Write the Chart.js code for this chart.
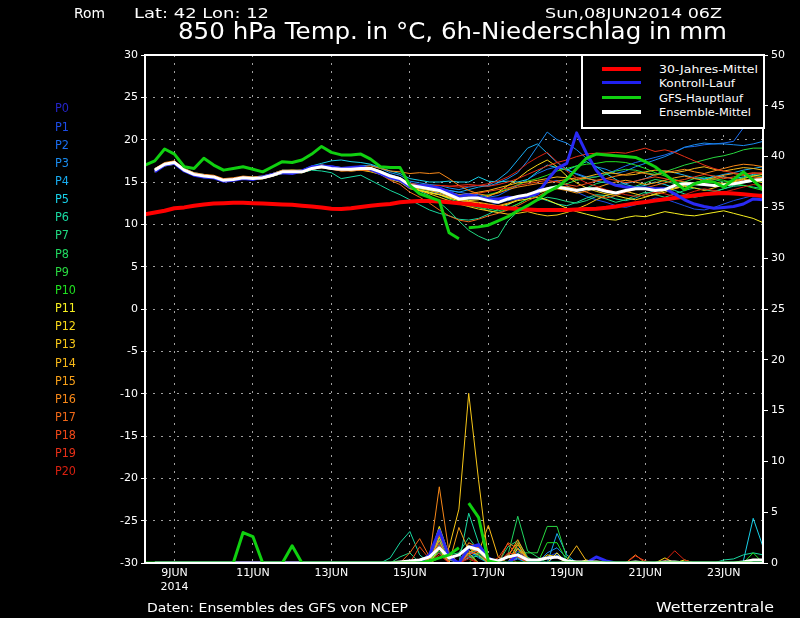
<!DOCTYPE html>
<html><head><meta charset="utf-8">
<script src="https://cdn.jsdelivr.net/npm/chart.js"></script>
<style>
html,body{margin:0;padding:0;background:#000;}
#wrap{position:relative;width:800px;height:618px;background:#000;overflow:hidden;}
#c{position:absolute;left:0;top:0;}
.t{position:absolute;color:#fff;font-family:"DejaVu Sans",sans-serif;white-space:nowrap;line-height:1;transform-origin:0 50%;}
#legend{position:absolute;left:581px;top:54px;width:180px;height:71px;border:2px solid #fff;background:#000;}
.lg{position:absolute;left:602px;width:39px;}
</style></head>
<body><div id="wrap">
<canvas id="c" width="800" height="618"></canvas>
<div class="t" data-x="74" data-cy="13" data-fs="14" data-w="31">Rom</div>
<div class="t" data-x="134" data-cy="13" data-fs="14" data-w="135">Lat: 42 Lon: 12</div>
<div class="t" data-x="545" data-cy="13" data-fs="14" data-w="177">Sun,08JUN2014 06Z</div>
<div class="t" data-x="178" data-cy="31" data-fs="23" data-w="549">850 hPa Temp. in °C, 6h-Niederschlag in mm</div>
<div id="legend"></div>
<div class="lg" style="top:67px;height:4px;background:#ff0000"></div>
<div class="lg" style="top:81px;height:3px;background:#2020f0"></div>
<div class="lg" style="top:96px;height:3px;background:#10d010"></div>
<div class="lg" style="top:110px;height:4px;background:#ffffff"></div>
<div class="t" data-x="659" data-cy="69" data-fs="10.5" data-w="99">30-Jahres-Mittel</div>
<div class="t" data-x="659" data-cy="83" data-fs="10.5" data-w="76">Kontroll-Lauf</div>
<div class="t" data-x="659" data-cy="98" data-fs="10.5" data-w="84">GFS-Hauptlauf</div>
<div class="t" data-x="659" data-cy="112" data-fs="10.5" data-w="92">Ensemble-Mittel</div>
<div class="t" data-x="147" data-cy="607" data-fs="13" data-w="261">Daten: Ensembles des GFS von NCEP</div>
<div class="t" data-x="656" data-cy="607" data-fs="14" data-w="118">Wetterzentrale</div>
<div id="plabels"></div>
</div>
<script>
// ---- time axis (hours after 08JUN2014 06Z) ----
const hours = [0,6,12,18,24,30,36,42,48,54,60,66,72,78,84,90,96,102,108,114,120,126,132,138,144,150,156,162,168,174,180,186,192,198,204,210,216,222,228,234,240,246,252,258,264,270,276,282,288,294,300,306,312,318,324,330,336,342,348,354,360,366,372,378];
const xTickHours = [18,66,114,162,210,258,306,354];
const xTickLabels = ['9JUN','11JUN','13JUN','15JUN','17JUN','19JUN','21JUN','23JUN'];
const yearLabel = '2014';
const memberNames = ['P0','P1','P2','P3','P4','P5','P6','P7','P8','P9','P10','P11','P12','P13','P14','P15','P16','P17','P18','P19','P20'];
const memberColors = ['#2424c8','#1c4ce8','#1a6cf0','#1a8cf0','#18acf0','#18d0e8','#18d8a0','#20d880','#20d860','#28d840','#20e020','#f8f020','#f8d818','#f8c818','#f8b818','#f8a018','#f88818','#f06818','#f04818','#e83018','#d82010'];

// ---- 850 hPa temperature (°C) ----
const tempMean = [null,16.4,17.1,17.3,16.4,15.9,15.7,15.6,15.2,15.3,15.5,15.4,15.5,15.8,16.2,16.2,16.2,16.6,16.8,16.6,16.5,16.5,16.6,16.6,16.2,
15.7,15.4,14.6,14.4,14.2,14.0,13.5,13.0,13.1,13.1,12.8,12.6,13.0,13.3,13.5,13.9,14.2,14.4,14.2,14.0,14.2,14.2,13.9,13.7,14.0,14.2,14.2,14.0,14.1,14.6,14.8,14.8,14.7,14.6,14.65,14.8,15.0,15.2,15.3];
const tempClim = [11.2,11.4,11.6,11.9,12.0,12.2,12.35,12.45,12.5,12.55,12.55,12.5,12.45,12.4,12.35,12.3,12.2,12.1,12.0,11.85,11.8,11.9,12.05,12.2,12.3,12.4,12.6,12.7,12.75,12.75,12.7,12.6,12.5,12.4,12.25,12.1,12.0,11.9,11.8,11.75,11.7,11.7,11.7,11.7,11.75,11.8,11.85,11.95,12.1,12.3,12.5,12.65,12.8,12.95,13.1,13.25,13.4,13.55,13.65,13.7,13.65,13.55,13.45,13.35];
const tempGfsHigh = [17.0,17.5,18.9,18.3,16.8,16.6,17.8,17.0,16.4,16.6,16.8,16.5,16.2,16.8,17.4,17.3,17.6,18.3,19.2,18.5,18.2,18.2,18.3,17.7,16.8,16.7,16.7,14.6,13.6,13.2,12.8,9.0,8.3,
null,null,null,null,null,null,null,null,null,null,null,null,null,null,null,null,null,null,null,null,null,null,null,null,null,null,null,null,null,null,null];
const tempGfsLow = [null,null,null,null,null,null,null,null,null,null,null,null,null,null,null,null,null,null,null,null,null,null,null,null,null,null,null,null,null,null,null,null,null,
9.6,9.7,9.9,10.4,10.9,11.6,12.2,12.9,13.8,14.4,15.3,16.6,17.8,18.3,18.2,18.1,18.0,17.9,17.4,16.8,15.9,15.0,14.1,14.8,15.1,15.0,14.4,15.3,16.2,15.2,14.1];
const tempP0 = [null,16.2,17.0,17.2,16.3,15.8,15.6,15.5,15.1,15.2,15.4,15.3,15.6,15.9,16.1,16.0,16.3,16.8,16.9,16.8,16.6,16.7,16.8,16.5,16.0,
15.5,15.2,14.4,14.6,14.5,14.3,13.8,13.3,13.5,13.2,13.0,13.0,13.2,13.1,13.3,13.6,15.2,16.6,17.2,20.8,18.4,16.4,15.1,14.6,14.4,14.3,14.3,14.2,14.2,13.6,12.9,12.4,12.1,11.9,12.0,12.1,12.4,13.0,12.9];
const tempP1 = [null,16.3,17.0,17.3,16.5,16.0,15.8,15.6,15.3,15.2,15.4,15.5,15.4,15.7,16.3,16.1,16.3,16.7,17.0,16.9,16.7,16.4,16.5,16.7,16.1,
15.6,15.3,14.8,14.3,14.0,13.6,13.2,12.9,12.4,12.1,12.3,12.5,12.8,13.0,13.4,14.1,14.9,15.2,14.6,13.8,13.3,12.9,12.6,12.2,12.0,12.3,12.7,13.1,13.0,12.6,12.2,11.8,11.7,12.0,12.4,12.8,13.1,13.4,13.6];
const tempP2 = [null,16.5,17.2,17.4,16.4,15.9,15.7,15.7,15.3,15.4,15.6,15.4,15.5,15.8,16.2,16.3,16.1,16.5,16.8,16.7,16.4,16.6,16.7,16.6,16.3,
15.9,15.5,14.9,14.7,14.6,14.3,14.0,13.8,13.6,13.5,13.2,13.4,14.0,14.6,15.3,16.0,16.5,16.8,16.4,16.0,15.6,15.6,15.9,16.4,16.9,17.3,17.6,17.9,18.2,18.6,19.1,19.2,19.4,19.5,19.6,19.8,21.4,22.0,22.6];
const tempP3 = [null,16.4,17.1,17.2,16.5,16.0,15.6,15.5,15.2,15.3,15.5,15.4,15.6,15.9,16.2,16.3,16.2,16.7,16.9,16.7,16.6,16.6,16.9,17.0,16.6,
16.1,15.8,15.1,14.9,14.7,14.6,14.3,14.1,14.4,14.6,14.5,14.9,15.4,16.1,17.5,19.2,20.9,20.0,19.6,18.8,17.8,16.8,16.5,16.0,16.3,16.8,17.2,17.6,18.0,18.5,19.1,19.4,19.6,19.5,19.5,19.4,19.3,19.5,19.8];
const tempP4 = [null,16.3,17.0,17.3,16.4,15.8,15.7,15.6,15.2,15.3,15.4,15.3,15.5,15.8,16.1,16.2,16.3,16.7,16.9,16.8,16.7,16.6,16.7,16.7,16.3,
15.8,15.5,14.7,14.5,14.4,14.2,14.0,13.8,14.1,14.4,14.6,15.3,16.2,17.6,19.0,19.5,18.4,17.3,16.5,15.9,15.5,15.1,14.9,14.7,14.8,15.1,15.4,15.9,16.3,16.1,15.8,15.5,15.4,15.6,15.9,16.1,16.4,16.6,16.8];
const tempP5 = [null,16.6,17.2,17.4,16.6,16.1,15.9,15.7,15.3,15.4,15.6,15.6,15.7,16.0,16.4,16.4,16.4,16.9,17.2,17.5,17.6,17.4,17.3,17.1,16.7,
16.3,16.0,15.4,15.2,15.0,15.0,15.1,15.0,15.0,15.6,15.1,15.0,15.1,15.0,15.3,16.2,17.0,16.7,16.4,16.9,17.4,16.8,16.0,15.3,14.7,14.4,14.6,15.0,14.7,14.3,14.5,14.8,15.3,15.7,15.6,15.4,15.6,15.9,16.0];
const tempP6 = [null,16.2,16.9,17.1,16.3,15.8,15.5,15.5,15.1,15.2,15.4,15.3,15.4,15.7,16.0,16.1,16.1,16.4,16.3,16.1,15.4,15.6,15.8,15.2,14.6,
14.0,13.5,12.9,12.3,11.7,11.3,11.0,10.6,10.5,10.7,11.2,11.8,12.3,12.9,13.4,13.2,12.8,12.4,12.2,12.6,13.1,13.5,13.4,13.0,12.8,13.1,13.6,14.0,14.3,14.0,13.6,13.2,13.4,13.8,14.2,14.5,14.6,14.4,14.2];
const tempP7 = [null,16.4,17.1,17.3,16.4,15.9,15.7,15.6,15.2,15.2,15.5,15.4,15.5,15.8,16.2,16.2,16.2,16.6,16.8,16.6,16.4,16.5,16.5,16.5,16.1,
15.6,15.2,14.4,13.9,13.4,12.6,11.6,10.4,9.3,8.6,8.1,8.5,10.4,11.5,12.3,12.8,13.2,13.0,12.7,12.5,12.8,13.3,13.0,12.6,12.9,13.4,13.8,13.5,13.2,13.6,14.0,14.3,14.1,13.9,14.2,14.6,14.9,15.1,15.0];
const tempP8 = [null,16.3,17.0,17.2,16.4,15.9,15.7,15.6,15.2,15.3,15.5,15.4,15.4,15.8,16.2,16.2,16.1,16.5,16.7,16.5,16.4,16.4,16.5,16.4,16.0,
15.5,15.1,14.3,14.1,13.8,13.5,13.0,12.6,12.2,12.0,11.8,11.6,11.9,12.4,13.0,13.7,14.3,14.6,14.4,14.1,14.3,14.8,15.1,14.7,14.3,14.5,14.9,15.3,15.1,14.8,15.0,15.4,15.6,15.3,15.0,15.2,15.5,15.8,15.6];
const tempP9 = [null,16.5,17.1,17.3,16.5,16.0,15.7,15.6,15.3,15.3,15.5,15.5,15.5,15.8,16.2,16.3,16.2,16.6,16.8,16.7,16.5,16.5,16.6,16.6,16.2,
15.7,15.3,14.5,14.2,14.0,13.8,13.4,12.9,12.5,12.0,11.6,11.4,11.8,12.4,13.0,13.6,14.1,14.5,14.8,15.2,15.4,15.6,15.9,16.3,16.5,16.4,16.1,15.9,16.2,16.6,17.0,17.3,17.6,17.9,18.1,18.4,18.8,19.0,19.0];
const tempP10 = [null,16.4,17.0,17.2,16.4,15.9,15.6,15.6,15.2,15.3,15.4,15.4,15.5,15.7,16.2,16.1,16.2,16.6,16.7,16.6,16.5,16.4,16.6,16.6,16.2,
15.6,15.3,14.6,14.3,14.1,13.9,13.3,12.8,13.0,13.2,13.5,13.8,14.2,14.7,15.1,15.4,15.8,16.3,16.6,16.9,17.1,17.2,17.4,17.4,17.3,17.0,16.6,16.1,15.7,15.3,15.0,14.8,15.1,15.4,15.2,14.9,14.6,14.3,14.0];
const tempP11 = [null,16.2,16.9,17.2,16.3,15.8,15.6,15.5,15.1,15.2,15.4,15.3,15.4,15.7,16.0,16.3,16.4,16.8,17.0,16.8,16.5,16.3,16.4,16.4,15.9,
15.4,15.0,14.2,14.0,13.8,13.5,13.1,12.8,12.7,12.5,12.3,12.1,12.4,12.8,13.0,13.2,12.9,12.4,11.9,11.5,11.2,10.9,10.6,10.5,10.8,11.0,10.9,11.2,11.5,11.3,11.1,11.0,11.2,11.4,11.6,11.3,11.0,10.7,10.2];
const tempP12 = [null,16.5,17.2,17.4,16.5,16.0,15.8,15.7,15.3,15.4,15.6,15.5,15.6,15.9,16.3,16.4,16.3,16.7,16.9,16.6,16.3,16.4,16.4,16.2,15.9,
15.3,15.0,14.3,14.0,13.7,13.5,13.2,13.0,12.8,12.9,13.3,13.8,14.6,15.4,16.3,17.0,17.6,16.8,15.7,14.9,14.3,13.9,13.6,13.4,13.1,12.9,13.2,13.6,14.0,14.3,14.6,14.9,15.2,15.0,14.8,15.1,15.4,15.7,15.9];
const tempP13 = [null,16.3,17.0,17.3,16.4,15.9,15.7,15.6,15.2,15.3,15.5,15.4,15.5,15.8,16.2,16.2,16.3,16.7,16.9,16.6,16.5,16.5,16.5,16.4,16.0,
15.5,15.1,14.3,14.0,13.6,13.2,12.8,12.4,12.1,11.8,11.6,11.4,11.2,11.3,11.5,11.2,11.0,11.1,11.4,11.8,12.3,12.9,13.4,13.7,13.9,13.6,13.3,13.5,13.8,14.2,14.5,14.3,14.0,14.3,14.7,15.0,15.3,15.2,14.9];
const tempP14 = [null,16.4,17.1,17.3,16.5,16.0,15.7,15.6,15.3,15.3,15.5,15.5,15.6,15.9,16.2,16.2,16.3,16.6,16.8,16.7,16.6,16.6,16.7,16.7,16.3,
15.8,15.5,14.8,14.6,14.4,14.2,13.8,13.5,13.6,13.8,14.0,14.3,14.6,14.9,15.0,15.2,15.4,15.6,15.5,15.3,15.6,15.9,16.1,16.0,15.8,15.9,16.2,16.4,16.3,16.1,16.3,16.6,16.8,16.5,16.3,16.5,16.7,16.6,16.4];
const tempP15 = [null,16.3,17.0,17.2,16.4,15.8,15.6,15.5,15.1,15.2,15.4,15.3,15.4,15.7,16.1,16.1,16.1,16.5,16.7,16.5,16.4,16.4,16.5,16.4,16.0,
15.4,15.1,14.4,14.2,14.0,13.7,13.3,12.9,12.7,12.6,12.4,12.2,12.5,12.9,13.3,13.7,14.0,14.2,14.0,13.7,13.9,14.3,14.7,15.0,15.2,15.0,14.7,14.9,15.2,15.5,15.7,15.4,15.2,15.5,15.8,16.0,15.8,15.6,15.5];
const tempP16 = [null,16.6,17.3,17.5,16.6,16.1,15.9,15.8,15.4,15.5,15.7,15.6,15.7,16.0,16.4,16.4,16.4,16.8,17.0,16.8,16.7,16.7,16.8,16.9,16.6,
16.3,16.2,16.0,16.1,16.0,16.1,15.4,14.6,14.0,13.6,13.4,13.7,14.1,14.4,14.6,14.8,14.9,15.1,15.3,15.5,15.4,15.2,15.4,15.7,15.9,16.2,16.0,15.8,16.1,16.3,16.5,16.2,16.0,16.3,16.6,16.9,17.1,17.0,16.8];
const tempP17 = [null,16.2,16.9,17.1,16.3,15.8,15.6,15.5,15.1,15.2,15.4,15.3,15.4,15.7,16.1,16.1,16.1,16.5,16.7,16.5,16.3,16.3,16.4,16.3,15.9,
15.2,14.7,13.8,13.2,12.5,11.7,11.0,10.5,10.3,10.6,11.0,11.3,11.7,12.2,12.8,13.3,13.9,14.3,14.5,14.2,13.8,13.4,13.1,13.4,13.8,14.1,14.3,14.6,14.9,15.2,15.0,14.7,14.9,15.3,15.6,15.4,15.1,15.3,15.6];
const tempP18 = [null,16.5,17.2,17.4,16.5,16.0,15.8,15.7,15.3,15.4,15.6,15.5,15.6,15.9,16.3,16.3,16.3,16.7,16.9,16.7,16.6,16.6,16.7,16.6,16.2,
15.7,15.4,14.7,14.5,14.3,14.1,13.7,13.4,13.5,13.7,13.9,14.1,14.3,14.6,14.8,15.0,15.2,15.0,14.7,14.5,14.8,15.1,15.4,15.2,14.9,15.1,15.4,15.6,15.4,15.1,15.3,15.6,15.9,15.7,15.4,15.6,15.9,16.1,16.0];
const tempP19 = [null,16.4,17.1,17.3,16.4,15.9,15.7,15.6,15.2,15.3,15.5,15.4,15.5,15.8,16.2,16.2,16.2,16.6,16.8,16.6,16.5,16.5,16.6,16.6,16.2,
15.7,15.4,14.8,14.7,14.6,14.6,14.5,14.6,14.7,14.6,14.5,14.7,15.0,15.4,15.9,16.4,16.9,17.3,17.6,18.0,18.3,18.4,18.4,18.5,18.4,18.7,19.0,18.6,18.8,18.5,18.0,17.5,17.0,16.6,16.3,16.1,15.9,16.0,16.1];
const tempP20 = [null,16.3,17.0,17.2,16.4,15.9,15.6,15.5,15.2,15.2,15.4,15.4,15.5,15.8,16.1,16.2,16.2,16.6,16.7,16.6,16.4,16.5,16.6,16.5,16.1,
15.5,15.1,14.5,14.4,14.5,14.6,14.5,14.4,14.5,14.6,14.8,15.1,15.6,16.3,17.2,17.9,18.5,17.4,16.3,15.5,14.9,14.5,14.1,13.8,13.5,13.3,13.5,13.8,13.6,13.3,13.5,13.9,14.2,14.0,13.8,14.1,14.4,14.7,14.6];

// ---- 6h precipitation (mm) ----
const precipMean = [null,0,0,0,0,0,0,0, 0,0,0,0,0,0,0,0, 0,0,0,0,0,0,0,0, 0,0,0.1,0.2,0.3,0.6,1.5,0.5, 0.8,1.6,1.3,0.4,0.2,0.6,0.8,0.3, 0.3,0.5,0.6,0.2,0.1,0.1,0.1,0, 0,0,0.1,0,0,0.1,0.1,0, 0,0,0,0,0,0.1,0.3,0.3];
const precipGfsHigh = [0,0,0,0,0,0,0,0, 0,0,3.0,2.6,0,0,0,1.7, 0,0,0,0,0,0,0,0, 0,0,0,0,0,0.2,0.5,0.8, 1.5,null,null,null,null,null,null,null, null,null,null,null,null,null,null,null, null,null,null,null,null,null,null,null, null,null,null,null,null,null,null,null];
const precipGfsLow = [null,null,null,null,null,null,null,null, null,null,null,null,null,null,null,null, null,null,null,null,null,null,null,null, null,null,null,null,null,null,null,null, null,5.9,4.5,0.2,0,0,0,0, 0,0,0,0,0,0,0,0, 0,0,0,0,0,0,0,0, 0,0,0,0,0,0,0,0];
const precipP0 = [null,0,0,0,0,0,0,0, 0,0,0,0,0,0,0,0, 0,0,0,0,0,0,0,0, 0,0,0,0,0,0.8,3.2,0.6, 0,1.5,1.8,0.5,0,0,0.8,0.3, 0,0,0,0,0,0,0.6,0.2, 0,0,0,0,0,0,0,0, 0,0,0,0,0,0,0,0];
const precipP1 = [null,0,0,0,0,0,0,0, 0,0,0,0,0,0,0,0, 0,0,0,0,0,0,0,0, 0,0,0,0,0,0,2.0,0.4, 0,1.0,0.8,0,0,0,1.2,0.5, 0,0.6,1.0,0,0,0,0,0, 0,0,0,0,0,0,0,0, 0,0,0,0,0,0,0,0];
const precipP2 = [null,0,0,0,0,0,0,0, 0,0,0,0,0,0,0,0, 0,0,0,0,0,0,0,0, 0,0,0,0,0,0.6,2.5,0, 0,1.2,0.5,0,0,0,0.4,0, 0,0,0.8,0.3,0,0,0,0, 0,0,0,0,0,0,0,0, 0,0,0,0,0,0,0,0];
const precipP3 = [null,0,0,0,0,0,0,0, 0,0,0,0,0,0,0,0, 0,0,0,0,0,0,0,0, 0,0,0,0,0,0,1.5,0.3, 0,0.8,1.4,0,0,0,0,0, 0,1.0,1.5,0.5,0,0,0,0, 0,0,0,0,0,0,0,0, 0,0,0,0,0,0,0,0];
const precipP4 = [null,0,0,0,0,0,0,0, 0,0,0,0,0,0,0,0, 0,0,0,0,0,0,0,0, 0,0,0,0,0,0,1.8,0, 0,0.6,1.0,0,0,0,0.5,0, 0,0,2.9,0.8,0,0,0,0, 0,0,0,0,0,0,0,0, 0,0,0,0,0,0,0,0];
const precipP5 = [null,0,0,0,0,0,0,0, 0,0,0,0,0,0,0,0, 0,0,0,0,0,0,0,0, 0,0,0,0,0,0.4,1.0,0, 0,0.5,0.7,0,0,0,0,0, 0,0,0,0,0,0,0,0, 0,0,0,0,0,0,0,0, 0,0,0,0,0,0.2,4.4,1.6];
const precipP6 = [null,0,0,0,0,0,0,0, 0,0,0,0,0,0,0,0, 0,0,0,0,0,0,0,0, 0,0.5,2.0,3.1,0.8,0,1.5,0.5, 0,4.9,2.0,0.5,0,0,1.5,0.5, 0,0,0,0,0,0,0,0, 0,0,0,0,0,0,0,0, 0,0,0,0.3,0.4,0.8,1.0,0.8];
const precipP7 = [null,0,0,0,0,0,0,0, 0,0,0,0,0,0,0,0, 0,0,0,0,0,0,0,0, 0,0,0.6,1.0,0,0,2.5,0.8, 1.0,2.5,1.2,0,0,1.6,2.2,0.6, 0,0,0,0,0,0,0,0, 0,0,0,0,0,0,0,0, 0,0,0,0,0,0,0,0];
const precipP8 = [null,0,0,0,0,0,0,0, 0,0,0,0,0,0,0,0, 0,0,0,0,0,0,0,0, 0,0,0,0,0,0,2.3,0, 0,1.5,0.6,0,0,0.8,4.6,1.2, 0.6,0,0,0,0,0,0,0, 0,0,0,0,0,0,0,0, 0,0,0,0,0,0,0,0];
const precipP9 = [null,0,0,0,0,0,0,0, 0,0,0,0,0,0,0,0, 0,0,0,0,0,0,0,0, 0,0,0,0,0,0,1.2,0, 0,0.8,0,0,0,0,1.0,1.0, 1.0,3.6,3.6,0.5,0,0,0,0, 0,0,0,0,0,0,0,0, 0,0,0,0,0,0,0,0];
const precipP10 = [null,0,0,0,0,0,0,0, 0,0,0,0,0,0,0,0, 0,0,0,0,0,0,0,0, 0,0,0,0,0,0,1.6,0, 0,0,1.0,0,0,0,2.0,0.3, 0,2.0,2.0,0.2,0,0,0,0, 0,0,0,0,0,0,0,0, 0,0,0,0,0,0,1.0,0];
const precipP11 = [null,0,0,0,0,0,0,0, 0,0,0,0,0,0,0,0, 0,0,0,0,0,0,0,0, 0,0,0,0,0,0.5,3.6,0.8, 0,1.0,1.5,0,0,0,0.8,0, 0,0,1.0,0,0,0.3,0,0, 0,0,0,0,0,0,0,0.3, 0,0,0,0,0,0,0,0];
const precipP12 = [null,0,0,0,0,0,0,0, 0,0,0,0,0,0,0,0, 0,0,0,0,0,0,0,0, 0,0,0,0,0,0,1.4,0, 0,1.0,0,0,0,0,1.4,0.5, 0,0.8,0.6,0,0,0,0,0, 0,0,0,0,0,0.5,0,0, 0,0,0,0,0,0,0,0];
const precipP13 = [null,0,0,0,0,0,0,0, 0,0,0,0,0,0,0,0, 0,0,0,0,0,0,0,0, 0,0,0,0,0,0,0.5,1.5, 5.3,16.7,8.2,0.3,0,0,0.6,0, 0,0,0,0,0,0,0,0, 0,0,0,0,0,0,0,0, 0,0,0,0,0,0,0,0];
const precipP14 = [null,0,0,0,0,0,0,0, 0,0,0,0,0,0,0,0, 0,0,0,0,0,0,0,0, 0,0,0,0,0,0,2.6,0.4, 0,1.5,1.0,3.7,0.6,0,1.8,0.4, 0,0,0,0.3,1.7,0.2,0,0, 0,0,0,0,0,0,0,0, 0,0,0,0,0,0,0,0];
const precipP15 = [null,0,0,0,0,0,0,0, 0,0,0,0,0,0,0,0, 0,0,0,0,0,0,0,0, 0,0,0,0,0,0.4,2.2,0, 3.5,1.2,0.8,0,0,0.6,2.3,0.4, 0,0,0,0,0,0,0,0, 0,0,0,0,0,0,0,0, 0,0,0,0,0,0,0,0];
const precipP16 = [null,0,0,0,0,0,0,0, 0,0,0,0,0,0,0,0, 0,0,0,0,0,0,0,0, 0,0,0,0,0,0.5,7.5,1.0, 0,2.0,1.5,0,0,0.8,2.0,0, 0,0,0,0,0,0,0,0, 0,0,0.8,0,0,0,0,0, 0,0,0,0,0,0,0,0];
const precipP17 = [null,0,0,0,0,0,0,0, 0,0,0,0,0,0,0,0, 0,0,0,0,0,0,0,0, 0,0,0,1.0,2.4,0.6,2.8,0.5, 0,1.0,1.6,0,0,2.0,1.4,0, 0,0,0,0,0,0,0,0, 0,0,0,0,0,0,0,0, 0,0,0,0,0,0,0,0];
const precipP18 = [null,0,0,0,0,0,0,0, 0,0,0,0,0,0,0,0, 0,0,0,0,0,0,0,0, 0,0,0,0,1.6,0.4,1.9,0, 0,0.8,1.2,0,0.5,1.9,0.6,0, 0,0,0,0,0,0,0,0, 0,0,0,0,0,0,0,0, 0,0,0,0,0,0,0,0];
const precipP19 = [null,0,0,0,0,0,0,0, 0,0,0,0,0,0,0,0, 0,0,0,0,0,0,0,0, 0,0,0,0,0,0,1.0,0, 0,0.6,0,0,0,1.0,0.8,0, 0,0,0,0,0,0,0,0, 0,0,0.7,0.2,0,0,0,0, 0,0,0,0,0,0,0,0];
const precipP20 = [null,0,0,0,0,0,0,0, 0,0,0,0,0,0,0,0, 0,0,0,0,0,0,0,0, 0,0,0,0,0,0,0.8,0, 0,0.4,0,0,0,0.6,0,0, 0,0,0,0,0,0,0,0, 0,0,0,0,0,0.2,1.2,0.3, 0,0,0,0,0,0,0,0];

const tempMembers = [tempP0,tempP1,tempP2,tempP3,tempP4,tempP5,tempP6,tempP7,tempP8,tempP9,tempP10,tempP11,tempP12,tempP13,tempP14,tempP15,tempP16,tempP17,tempP18,tempP19,tempP20];
const precipMembers = [precipP0,precipP1,precipP2,precipP3,precipP4,precipP5,precipP6,precipP7,precipP8,precipP9,precipP10,precipP11,precipP12,precipP13,precipP14,precipP15,precipP16,precipP17,precipP18,precipP19,precipP20];

// ---- text layout helpers ----
const pl = document.getElementById('plabels');
memberNames.forEach((n,k)=>{
  const d=document.createElement('div'); d.className='t'; d.textContent=n;
  d.style.color=memberColors[k];
  d.dataset.x=55; d.dataset.cy=(109+18.15*k).toFixed(1); d.dataset.fs=11.5; d.dataset.w=(k<10?14:21);
  pl.appendChild(d);
});
document.querySelectorAll('.t').forEach(el=>{
  const fs=+el.dataset.fs;
  el.style.fontSize=fs+'px';
  el.style.left=el.dataset.x+'px';
  el.style.top=(+el.dataset.cy-0.48*fs)+'px';
  const w=el.getBoundingClientRect().width;
  if(w>0) el.style.transform='scaleX('+(+el.dataset.w/w)+')';
});

// ---- chart ----
function pts(arr){ return hours.map((h,i)=>({x:h,y:arr[i]})); }
const datasets=[];
function add(arr,color,width,axis,order){
  datasets.push({data:pts(arr),borderColor:color,backgroundColor:color,borderWidth:width,yAxisID:axis,order:order,
    pointRadius:0,pointHoverRadius:0,fill:false,tension:0,spanGaps:false,borderCapStyle:'butt',borderJoinStyle:'round'});
}
for(let k=1;k<=20;k++){
  add(tempMembers[k],memberColors[k],1,'y',100-k);
  add(precipMembers[k],memberColors[k],1,'y2',100-k);
}
add(tempClim,'#ff0000',4,'y',6);
add(tempP0,'#2a2af5',3,'y',5);
add(precipP0,'#2a2af5',3,'y2',5);
add(tempMean,'#ffffff',3,'y',3);
add(precipMean,'#ffffff',3,'y2',3);
add(tempGfsHigh,'#10d010',3,'y',1);
add(tempGfsLow,'#10d010',3,'y',1);
add(precipGfsHigh,'#10d010',3,'y2',1);
add(precipGfsLow,'#10d010',3,'y2',1);

const framePlugin={
  id:'frame',
  beforeDraw(c){const x=c.ctx;x.save();x.fillStyle='#000';x.fillRect(0,0,c.width,c.height);x.restore();},
  afterDatasetsDraw(c){const a=c.chartArea,x=c.ctx;x.save();x.strokeStyle='#fff';x.lineWidth=2;x.setLineDash([]);
    x.strokeRect(a.left,a.top,a.right-a.left,a.bottom-a.top);x.restore();}
};

Chart.defaults.font.family='"DejaVu Sans", sans-serif';
Chart.defaults.font.size=11;
Chart.defaults.color='#ffffff';

new Chart(document.getElementById('c'),{
  type:'line',
  data:{datasets:datasets},
  plugins:[framePlugin],
  options:{
    responsive:false,animation:false,
    layout:{padding:{top:55,left:0,right:0,bottom:0}},
    plugins:{legend:{display:false},tooltip:{enabled:false}},
    scales:{
      x:{type:'linear',min:0,max:378,
        afterBuildTicks(s){s.ticks=xTickHours.map(v=>({value:v}));},
        afterFit(s){s.height=55;},
        ticks:{autoSkip:false,maxRotation:0,padding:4,color:'#fff',
          callback:(v,i)=> i===0?[xTickLabels[0],yearLabel]:xTickLabels[i]},
        grid:{color:'#a0a0a0',lineWidth:1,drawTicks:false},
        border:{display:false,dash:[2,6]}},
      y:{position:'left',min:-30,max:30,
        afterBuildTicks(s){const t=[];for(let v=-30;v<=30;v+=5)t.push({value:v});s.ticks=t;},
        afterFit(s){s.width=145;},
        ticks:{padding:3,color:'#fff'},
        grid:{color:'#a0a0a0',lineWidth:1,drawTicks:true,tickLength:4,tickColor:'#fff',tickWidth:1,tickBorderDash:[]},
        border:{display:false,dash:[2,6]}},
      y2:{position:'right',min:0,max:50,
        afterBuildTicks(s){const t=[];for(let v=0;v<=50;v+=5)t.push({value:v});s.ticks=t;},
        afterFit(s){s.width=37;},
        ticks:{padding:3,color:'#fff'},
        grid:{drawOnChartArea:false,drawTicks:true,tickLength:5,tickColor:'#fff',tickWidth:1},
        border:{display:false}}
    }
  }
});
</script>
</body></html>
